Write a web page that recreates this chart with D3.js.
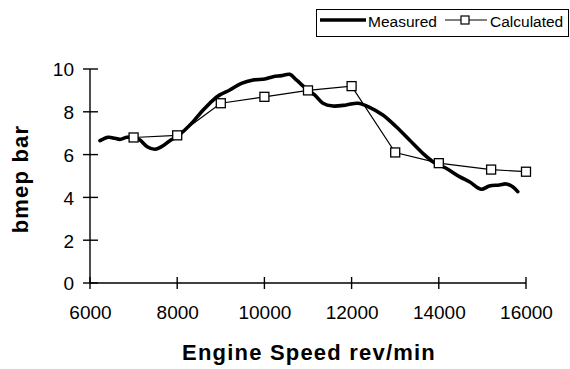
<!DOCTYPE html>
<html><head><meta charset="utf-8">
<script src="https://cdn.jsdelivr.net/npm/d3@7"></script>
<style>body{margin:0;background:#fff}svg{display:block;font-family:"Liberation Sans",Arial,sans-serif}</style>
</head><body>
<svg id="c" width="570" height="369"></svg>
<script>
// Data
const measuredRpm  = [6229,6420,6572,6687,6840,7000,7145,7312,7488,7640,7832,8000,8175,8366,8595,8824,8977,9206,9473,9740,10008,10198,10390,10580,10733,10885,11000,11152,11342,11571,11878,12145,12412,12717,13023,13328,13633,13862,14168,14473,14702,14970,15160,15389,15542,15695,15810];
const measuredBmep = [6.65,6.81,6.76,6.71,6.81,6.81,6.68,6.37,6.25,6.37,6.65,6.85,7.15,7.54,8.08,8.55,8.79,9.02,9.33,9.49,9.53,9.64,9.69,9.75,9.49,9.21,9.0,8.79,8.40,8.27,8.32,8.40,8.21,7.85,7.30,6.68,6.06,5.67,5.36,4.97,4.73,4.38,4.53,4.58,4.63,4.50,4.27];
const calcRpm  = [7000,8000,9000,10000,11000,12000,13000,14000,15200,16000];
const calcBmep = [6.8,6.9,8.4,8.7,9.0,9.2,6.1,5.6,5.3,5.2];
const xTicks = [6000,8000,10000,12000,14000,16000];
const yTicks = [0,2,4,6,8,10];
const seriesNames = ["Measured","Calculated"];
const xTitle = "Engine Speed rev/min";
const yTitle = "bmep bar";

const svg = d3.select("#c");
const x = d3.scaleLinear().domain([6000,16000]).range([90,526]);
const y = d3.scaleLinear().domain([0,10]).range([283,69]);

// axes
const xa = svg.append("g").attr("transform","translate(0,283)")
  .call(d3.axisBottom(x).tickValues(xTicks).tickSize(0).tickPadding(0).tickFormat(d3.format("d")));
xa.select(".domain").remove();
xa.selectAll(".tick line").remove();
xa.selectAll(".tick text").attr("y",36).attr("dy",0).attr("font-size",19).attr("fill","#000")
  .attr("font-family","Liberation Sans, Arial, sans-serif");

const ya = svg.append("g").attr("transform","translate(90,0)")
  .call(d3.axisLeft(y).tickValues(yTicks).tickSize(0).tickPadding(0));
ya.select(".domain").remove();
ya.selectAll(".tick line").remove();
ya.selectAll(".tick text").attr("x",-16).attr("dy","0.36em").attr("font-size",19).attr("fill","#000")
  .attr("font-family","Liberation Sans, Arial, sans-serif");

// axis lines and crossing ticks
svg.append("line").attr("x1",x(6000)).attr("x2",x(16000)).attr("y1",y(0)).attr("y2",y(0)).attr("stroke","#000").attr("stroke-width",1.4);
svg.append("line").attr("x1",x(6000)).attr("x2",x(6000)).attr("y1",y(0)).attr("y2",y(10)).attr("stroke","#000").attr("stroke-width",1.4);
svg.selectAll(".xt").data(xTicks).enter().append("line")
  .attr("x1",d=>x(d)).attr("x2",d=>x(d)).attr("y1",y(0)-6).attr("y2",y(0)+6).attr("stroke","#000").attr("stroke-width",1.4);
svg.selectAll(".yt").data(yTicks).enter().append("line")
  .attr("x1",x(6000)-7).attr("x2",x(6000)+8).attr("y1",d=>y(d)).attr("y2",d=>y(d)).attr("stroke","#000").attr("stroke-width",1.4);

// measured
const mData = measuredRpm.map((r,i)=>[r,measuredBmep[i]]);
svg.append("path").datum(mData)
  .attr("d",d3.line().x(d=>x(d[0])).y(d=>y(d[1])).curve(d3.curveCatmullRom.alpha(0.5)))
  .attr("fill","none").attr("stroke","#000").attr("stroke-width",3.6).attr("stroke-linejoin","round").attr("stroke-linecap","round");

// calculated
const cData = calcRpm.map((r,i)=>[r,calcBmep[i]]);
svg.append("path").datum(cData)
  .attr("d",d3.line().x(d=>x(d[0])).y(d=>y(d[1])))
  .attr("fill","none").attr("stroke","#000").attr("stroke-width",1.2);
svg.selectAll(".cm").data(cData).enter().append("rect")
  .attr("x",d=>x(d[0])-4.5).attr("y",d=>y(d[1])-4.5).attr("width",9).attr("height",9)
  .attr("fill","#fff").attr("stroke","#000").attr("stroke-width",1.3);

// titles
svg.append("text").attr("x",309).attr("y",360).attr("text-anchor","middle")
  .attr("font-size",22).attr("font-weight","bold").attr("letter-spacing",1.2).text(xTitle);
svg.append("text").attr("transform","translate(28,179) rotate(-90)").attr("text-anchor","middle")
  .attr("font-size",22).attr("font-weight","bold").attr("letter-spacing",1.2).text(yTitle);

// legend
const lg = svg.append("g");
lg.append("rect").attr("x",316.5).attr("y",9.5).attr("width",252).attr("height",27)
  .attr("fill","#fff").attr("stroke","#000").attr("stroke-width",1);
lg.append("line").attr("x1",320).attr("x2",366).attr("y1",20).attr("y2",20).attr("stroke","#000").attr("stroke-width",3.6);
lg.append("text").attr("x",368).attr("y",26.5).attr("font-size",15.5).text(seriesNames[0]);
lg.append("line").attr("x1",445).attr("x2",487).attr("y1",20).attr("y2",20).attr("stroke","#000").attr("stroke-width",1.2);
lg.append("rect").attr("x",461).attr("y",16).attr("width",8).attr("height",8).attr("fill","#fff").attr("stroke","#000").attr("stroke-width",1.2);
lg.append("text").attr("x",490).attr("y",26.5).attr("font-size",15.5).text(seriesNames[1]);
</script>
</body></html>
